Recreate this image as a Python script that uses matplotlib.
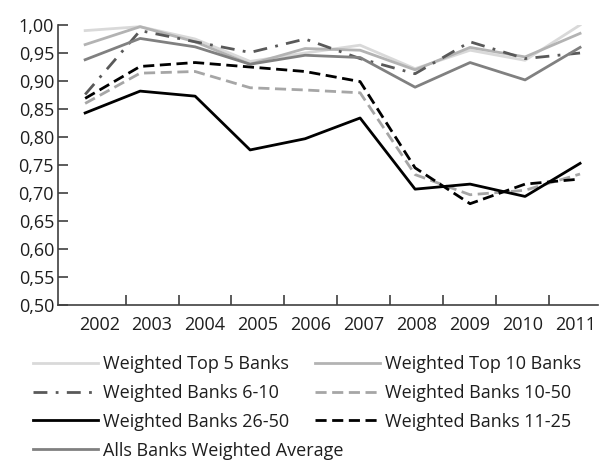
import matplotlib
matplotlib.use("Agg")
import matplotlib.pyplot as plt
from matplotlib.ticker import FixedLocator, FuncFormatter

years = ["2002", "2003", "2004", "2005", "2006", "2007", "2008", "2009", "2010", "2011"]

top5 = [0.990, 0.997, 0.975, 0.935, 0.950, 0.964, 0.922, 0.955, 0.937, 1.000]
top10 = [0.965, 0.997, 0.970, 0.930, 0.958, 0.955, 0.920, 0.960, 0.943, 0.985]
banks_6_10 = [0.876, 0.990, 0.970, 0.951, 0.975, 0.940, 0.913, 0.970, 0.940, 0.950]
banks_10_50 = [0.860, 0.914, 0.917, 0.888, 0.884, 0.879, 0.733, 0.697, 0.705, 0.734]
banks_26_50 = [0.843, 0.882, 0.873, 0.777, 0.797, 0.834, 0.707, 0.716, 0.694, 0.753]
banks_11_25 = [0.869, 0.926, 0.933, 0.925, 0.917, 0.899, 0.745, 0.681, 0.716, 0.725]
all_avg = [0.938, 0.976, 0.961, 0.930, 0.946, 0.942, 0.889, 0.933, 0.902, 0.960]

plt.rcParams["font.family"] = ["Open Sans", "DejaVu Sans"]
TXT = "#1e1e1e"
AX = "#404040"
FS = 13

fig = plt.figure(figsize=(6.0, 4.63), dpi=100)
ax = fig.add_axes([0.097, 0.341, 0.900, 0.605])

x = list(range(len(years)))
series = [
    ("Weighted Top 5 Banks", top5, "#d9d9d9", "-"),
    ("Weighted Top 10 Banks", top10, "#b3b3b3", "-"),
    ("Weighted Banks 6-10", banks_6_10, "#595959", (0, (5, 3, 1, 3))),
    ("Weighted Banks 10-50", banks_10_50, "#a6a6a6", (0, (4, 2))),
    ("Weighted Banks 26-50", banks_26_50, "#000000", "-"),
    ("Weighted Banks 11-25", banks_11_25, "#000000", (0, (4, 2))),
    ("Alls Banks Weighted Average", all_avg, "#808080", "-"),
]
lines = {}
for name, vals, color, ls in series:
    (ln,) = ax.plot(x, vals, color=color, linestyle=ls, linewidth=2.0)
    lines[name] = ln

# the lines run a little wider than the year axis in the original
ax.set_xlim(-0.49, 9.33)
ax.set_ylim(0.5, 1.0)
ax.set_yticks([0.5 + 0.05 * i for i in range(11)])
ax.yaxis.set_major_formatter(FuncFormatter(lambda v, p: f"{v:.2f}".replace(".", ",")))
ax.set_xticks([])

for side in ["top", "right"]:
    ax.spines[side].set_visible(False)
for side in ["left", "bottom"]:
    ax.spines[side].set_color(AX)
    ax.spines[side].set_linewidth(1.2)

ax.tick_params(axis="y", direction="in", length=7, width=1.2, color=AX,
               labelsize=FS, labelcolor=TXT, pad=3)

# category axis for the year labels
cat = ax.twiny()
cat.set_xlim(-0.775, 9.43)
cat.xaxis.set_ticks_position("bottom")
cat.xaxis.set_label_position("bottom")
cat.set_xticks(x)
cat.set_xticklabels(years)
cat.xaxis.set_minor_locator(FixedLocator([i + 0.5 for i in range(9)]))
for side in ["top", "right", "left", "bottom"]:
    cat.spines[side].set_visible(False)
cat.tick_params(axis="x", which="major", length=0, labelsize=FS,
                labelcolor=TXT, pad=8)
cat.tick_params(axis="x", which="minor", direction="in", length=7, width=1.2,
                color=AX)

left_col = ["Weighted Top 5 Banks", "Weighted Banks 6-10", "Weighted Banks 26-50",
            "Alls Banks Weighted Average"]
right_col = ["Weighted Top 10 Banks", "Weighted Banks 10-50", "Weighted Banks 11-25"]
leg_kw = dict(loc="upper left", frameon=False, fontsize=FS, handlelength=3.6,
              handletextpad=0.28, labelspacing=0.6, borderpad=0,
              borderaxespad=0, labelcolor=TXT)
fig.legend([lines[n] for n in left_col], left_col,
           bbox_to_anchor=(0.055, 0.233), **leg_kw)
fig.legend([lines[n] for n in right_col], right_col,
           bbox_to_anchor=(0.525, 0.233), **leg_kw)

fig.savefig("out.png", dpi=100)
